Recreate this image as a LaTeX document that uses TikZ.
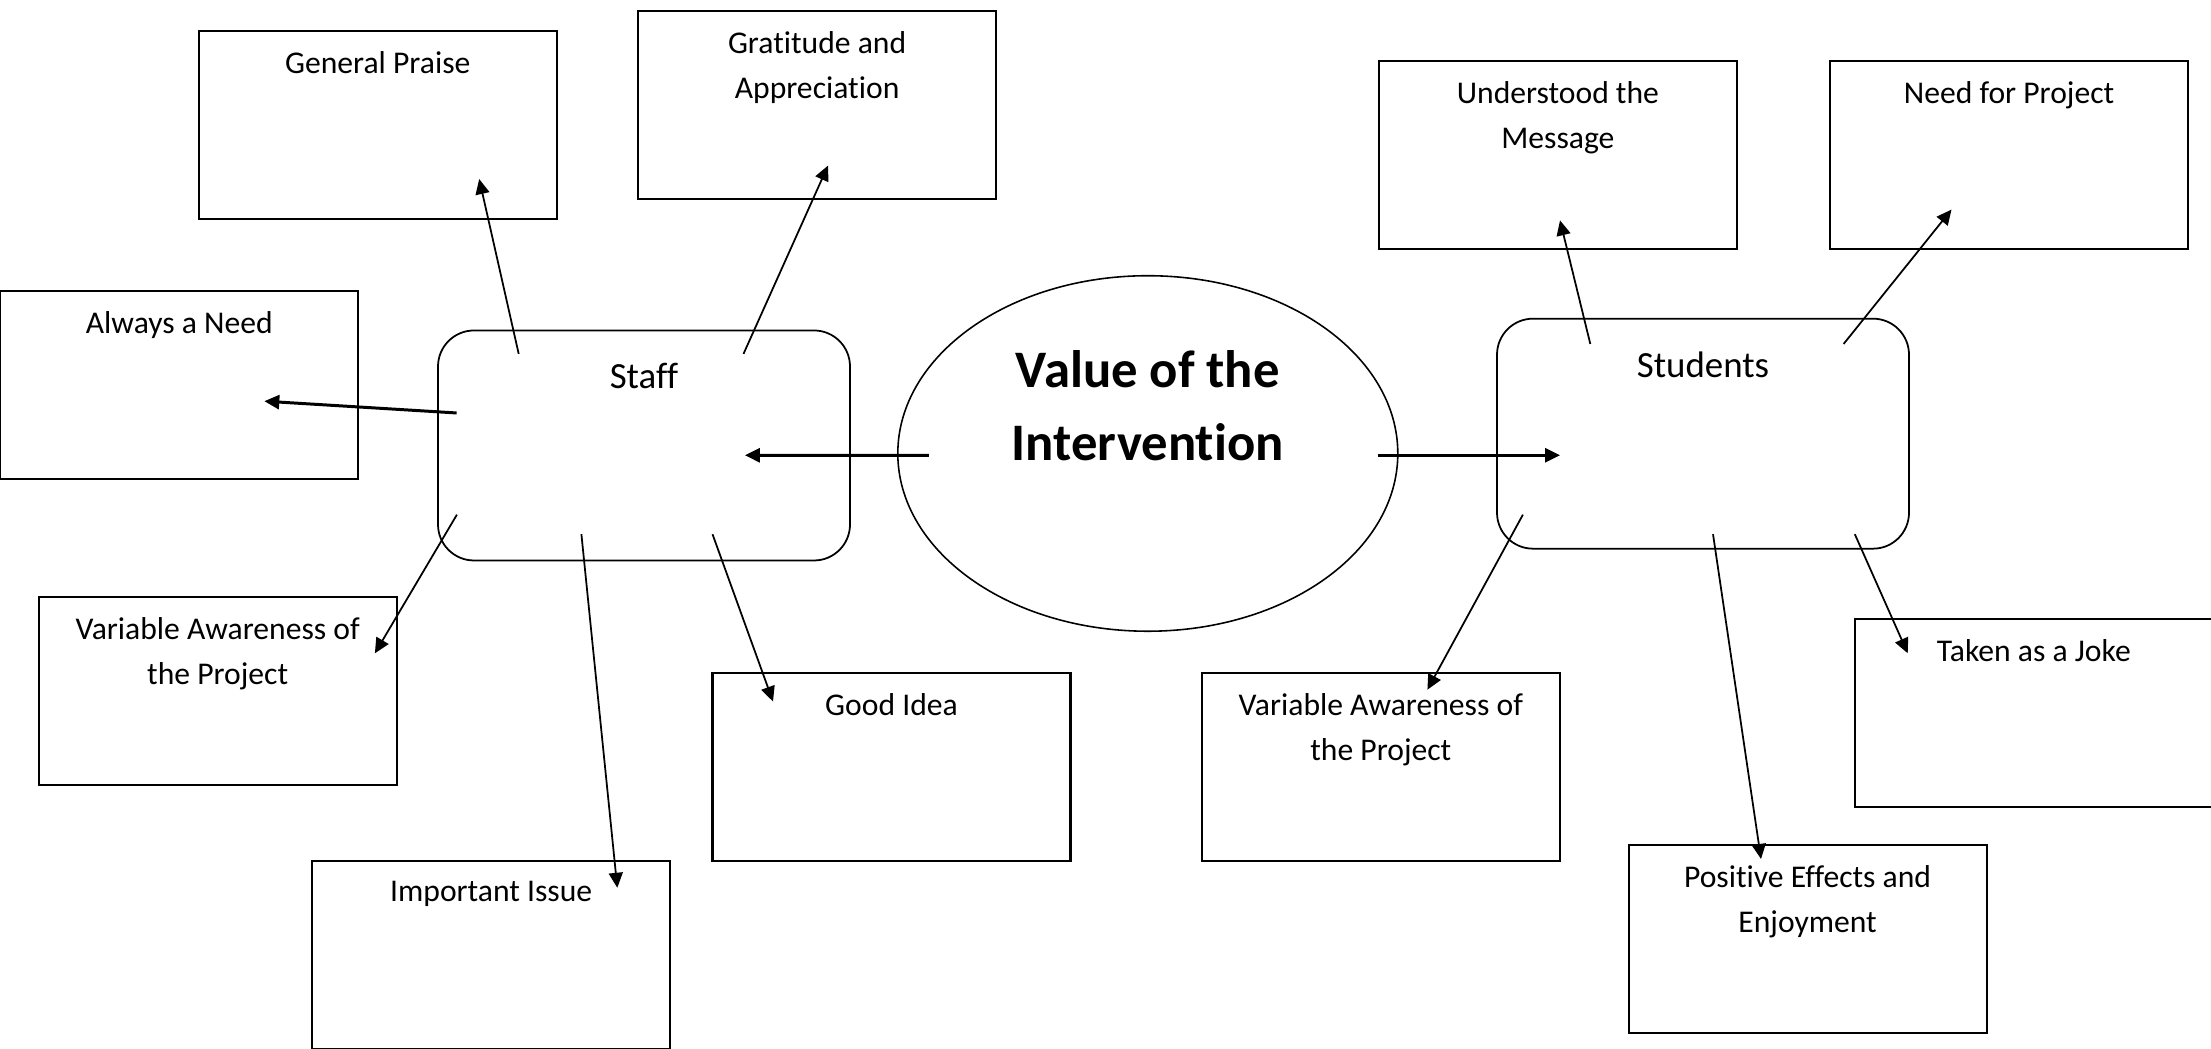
\documentclass[tikz,border=0pt]{standalone}
\usepackage{fontspec}
\setmainfont[Ligatures=NoCommon]{Carlito}
\usetikzlibrary{shapes.geometric,arrows.meta}

\begin{document}
\begin{tikzpicture}[
    box/.style={shape=rectangle, draw, line width=0.6pt, minimum width=3.58cm, minimum height=1.88cm, inner sep=0pt},
    grp/.style={shape=rectangle, draw, rounded corners=0.36cm, line width=0.5pt, minimum width=4.12cm, minimum height=2.3cm, inner sep=0pt},
    txt/.style={anchor=north, inner sep=0pt, yshift=-0.21cm, align=center, font=\fontsize{9}{12.8}\selectfont},
    grptxt/.style={anchor=north, inner sep=0pt, yshift=-0.33cm, font=\fontsize{10.5}{13}\selectfont},
    arr/.style={line width=0.5pt, -{Triangle[length=1.5mm,width=1.4mm]}},
    thickarr/.style={line width=0.85pt, -{Triangle[length=1.5mm,width=1.4mm]}}]
    \useasboundingbox (0,0) rectangle (22.11,10.49);

    \node[shape=ellipse, draw, line width=0.45pt, minimum width=5cm, minimum height=3.555cm, inner sep=0pt,
      label={[anchor=north, inner sep=0pt, yshift=-0.745cm, align=center, font=\fontsize{15}{21}\selectfont\bfseries]north:Value of the\\Intervention}] (value) at (11.478,5.955) {};
    \node[grp, label={[grptxt]north:Staff}] (staff) at (6.44,6.035) {};
    \node[grp, label={[grptxt]north:Students}] (students) at (17.03,6.153) {};

    \node[box, label={[txt]north:General Praise}] (praise) at (3.777,9.241) {};
    \node[box, label={[txt]north:Gratitude and\\Appreciation}] (thanks) at (8.171,9.439) {};
    \node[box, label={[txt]north:Always a Need}] (need) at (1.793,6.64) {};
    \node[box, label={[txt]north:Variable Awareness of\\the Project}] (awstaff) at (2.177,3.579) {};
    \node[box, label={[txt]north:Important Issue}] (issue) at (4.912,0.942) {};
    \node[box, label={[txt]north:Good Idea}] (idea) at (8.915,2.819) {};
    \node[box, label={[txt]north:Understood the\\Message}] (message) at (15.579,8.941) {};
    \node[box, label={[txt]north:Need for Project}] (project) at (20.09,8.941) {};
    \node[box, label={[txt]north:Variable Awareness of\\the Project}] (awstud) at (13.808,2.819) {};
    \node[box, label={[txt]north:Taken as a Joke}] (joke) at (20.338,3.36) {};
    \node[box, label={[txt]north:Positive Effects and\\Enjoyment}] (enjoy) at (18.076,1.10) {};

    \draw[thickarr] ([shift={(-2.19,-0.018)}]value.center) -- ([shift={(1.009,-0.098)}]staff.center);
    \draw[thickarr] ([shift={(2.302,-0.018)}]value.center) -- ([shift={(-1.43,-0.216)}]students.center);

    \draw[arr] ([shift={(-1.253,0.916)}]staff.center) -- ([shift={(1.015,-0.542)}]praise.center);
    \draw[arr] ([shift={(0.995,0.916)}]staff.center) -- ([shift={(0.109,-0.605)}]thanks.center);
    \draw[thickarr] ([shift={(-1.874,0.325)}]staff.center) -- ([shift={(0.85,-0.162)}]need.center);
    \draw[arr] ([shift={(-1.871,-0.692)}]staff.center) -- ([shift={(1.572,0.378)}]awstaff.center);
    \draw[arr] ([shift={(-0.626,-0.887)}]staff.center) -- ([shift={(1.261,0.67)}]issue.center);
    \draw[arr] ([shift={(0.685,-0.887)}]staff.center) -- ([shift={(-1.185,0.656)}]idea.center);

    \draw[arr] ([shift={(-1.127,0.897)}]students.center) -- ([shift={(0.021,-0.655)}]message.center);
    \draw[arr] ([shift={(1.406,0.897)}]students.center) -- ([shift={(-0.575,-0.547)}]project.center);
    \draw[arr] ([shift={(-1.801,-0.81)}]students.center) -- ([shift={(0.466,0.774)}]awstud.center);
    \draw[arr] ([shift={(0.10,-1.005)}]students.center) -- ([shift={(-0.466,0.80)}]enjoy.center);
    \draw[arr] ([shift={(1.518,-1.005)}]students.center) -- ([shift={(-1.261,0.597)}]joke.center);
\end{tikzpicture}
\end{document}
